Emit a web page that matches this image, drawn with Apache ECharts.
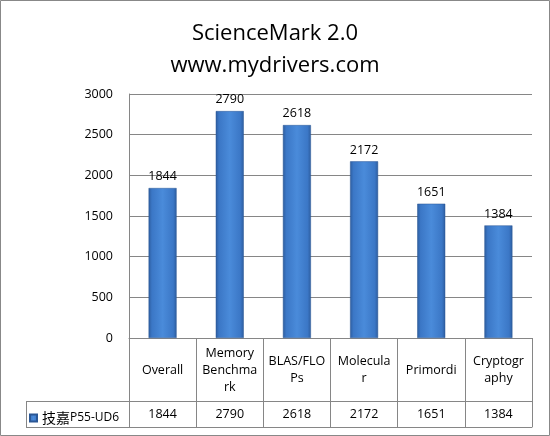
<!DOCTYPE html>
<html>
<head>
<meta charset="utf-8">
<script src="https://cdn.jsdelivr.net/npm/echarts@6/dist/echarts.min.js"></script>
<style>html,body{margin:0;padding:0;background:#fff}#c{width:550px;height:436px}</style>
</head>
<body>
<div id="c"></div>
<script>
var titleText = ['ScienceMark 2.0', 'www.mydrivers.com'];
var categories = ['Overall', 'Memory Benchmark', 'BLAS/FLOPs', 'Molecular', 'Primordi', 'Cryptography'];
var categoryLabels = ['Overall', 'Memory\nBenchma\nrk', 'BLAS/FLO\nPs', 'Molecula\nr', 'Primordi', 'Cryptogr\naphy'];
var seriesName = '技嘉P55-UD6';
var values = [1844, 2790, 2618, 2172, 1651, 1384];
var yTicks = { min: 0, max: 3000, interval: 500 };

var FONT = '"Open Sans", "Noto Sans", "Noto Sans CJK SC", sans-serif';
var GRAY = '#868686';
var chart = echarts.init(document.getElementById('c'), null, { renderer: 'canvas' });

var barColor = new echarts.graphic.LinearGradient(0, 0, 1, 0, [
  { offset: 0, color: '#2d5d9f' },
  { offset: 0.12, color: '#3b77c6' },
  { offset: 0.5, color: '#4a8bda' },
  { offset: 0.88, color: '#3b77c6' },
  { offset: 1, color: '#2d5d9f' }
]);

chart.setOption({
  backgroundColor: '#fff',
  animation: false,
  title: {
    text: titleText.join('\n'),
    left: 'center',
    top: 13,
    textStyle: { fontFamily: FONT, fontSize: 22, fontWeight: 'normal', color: '#000', lineHeight: 32 }
  },
  legend: {
    left: 24,
    top: 406,
    icon: 'rect',
    itemWidth: 7,
    itemHeight: 7,
    itemGap: 5,
    data: [seriesName],
    formatter: function (name) {
      return name.replace(/^([^\x00-\x7f]+)(.*)$/, '{a|$1}{b|$2}');
    },
    textStyle: {
      color: '#000',
      rich: {
        a: { fontFamily: '"Noto Sans CJK SC", sans-serif', fontSize: 14, color: '#000' },
        b: { fontFamily: FONT, fontSize: 12, color: '#000' }
      }
    }
  },
  grid: { left: 129, right: 18, top: 94, bottom: 98, containLabel: false },
  xAxis: [
    {
      type: 'category',
      data: categories,
      position: 'bottom',
      axisLine: { show: true, lineStyle: { color: GRAY, width: 1 } },
      axisTick: { show: true, length: 89, interval: 0, lineStyle: { color: GRAY } },
      axisLabel: {
        interval: 0,
        margin: 32,
        verticalAlign: 'middle',
        lineHeight: 17,
        fontSize: 12.5,
        fontFamily: FONT,
        color: '#000',
        formatter: function (v, i) { return categoryLabels[i]; }
      }
    },
    {
      type: 'category',
      data: categories,
      position: 'bottom',
      offset: 63,
      axisLine: { show: true, lineStyle: { color: GRAY, width: 1 } },
      axisTick: { show: false },
      axisLabel: {
        interval: 0,
        margin: 13,
        verticalAlign: 'middle',
        fontSize: 12.5,
        fontFamily: FONT,
        color: '#000',
        formatter: function (v, i) { return String(values[i]); }
      }
    },
    {
      type: 'category',
      data: categories,
      position: 'bottom',
      offset: 89,
      axisLine: { show: true, lineStyle: { color: GRAY, width: 1 } },
      axisTick: { show: false },
      axisLabel: { show: false }
    }
  ],
  yAxis: {
    type: 'value',
    min: yTicks.min,
    max: yTicks.max,
    interval: yTicks.interval,
    axisLine: { show: true, lineStyle: { color: GRAY } },
    axisTick: { show: false },
    splitLine: { show: true, lineStyle: { color: GRAY, width: 1 } },
    axisLabel: { margin: 16, fontSize: 12.5, fontFamily: FONT, color: '#000', formatter: function (v) { return String(v); } }
  },
  series: [{
    name: seriesName,
    type: 'bar',
    xAxisIndex: 0,
    data: values,
    barWidth: 28,
    itemStyle: { color: barColor, borderColor: '#2a5795', borderWidth: 0.5 },
    label: { show: true, position: 'top', distance: 5, fontSize: 12.5, fontFamily: FONT, color: '#000' }
  }],
  graphic: [
    { type: 'line', shape: { x1: 26, y1: 401.5, x2: 129, y2: 401.5 }, style: { stroke: GRAY, lineWidth: 1 } },
    { type: 'line', shape: { x1: 26, y1: 427.5, x2: 129, y2: 427.5 }, style: { stroke: GRAY, lineWidth: 1 } },
    { type: 'line', shape: { x1: 26.5, y1: 401, x2: 26.5, y2: 428 }, style: { stroke: GRAY, lineWidth: 1 } },
    { type: 'rect', shape: { x: 0.5, y: 0.5, width: 549, height: 435 }, style: { fill: null, stroke: '#888', lineWidth: 1 } }
  ]
});
</script>
</body>
</html>
